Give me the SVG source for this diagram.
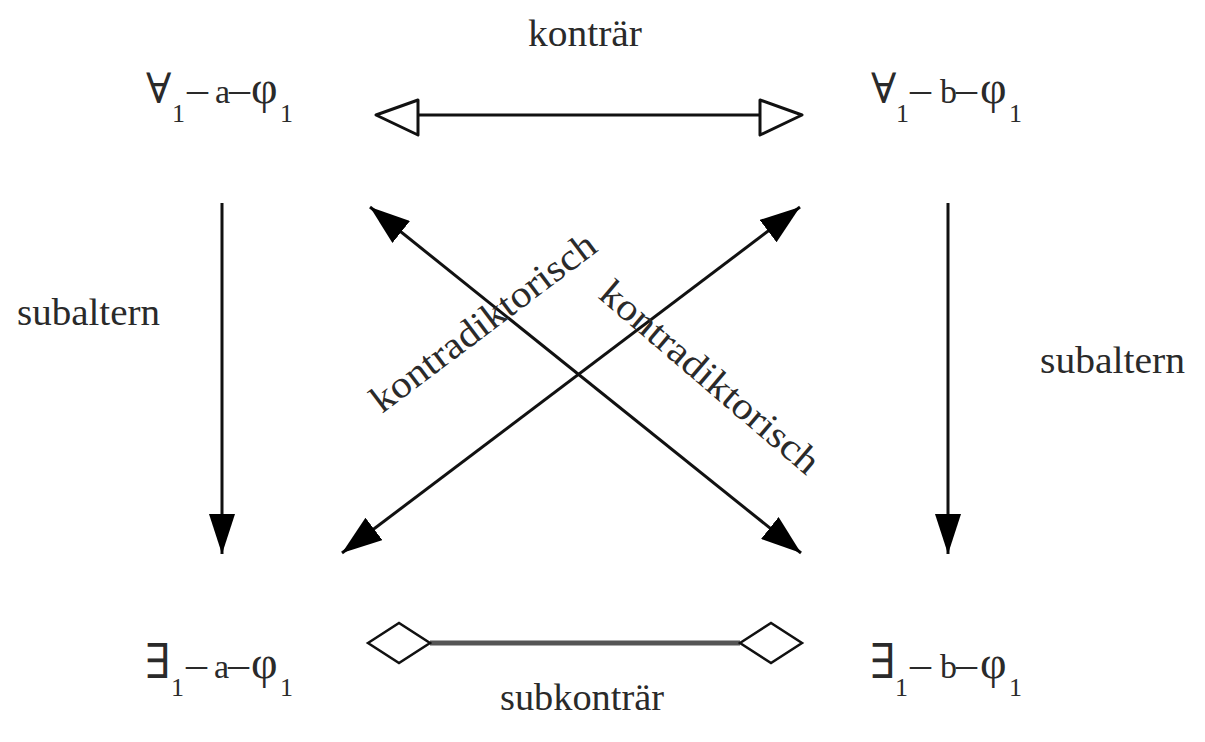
<svg xmlns="http://www.w3.org/2000/svg" width="1205" height="742" viewBox="0 0 1205 742">
<style>
text{font-family:"Liberation Serif","DejaVu Serif",serif;fill:#2a2a2a;}
.lbl{font-size:38px;}
.q{font-size:42px;}
.e{font-size:48px;}
.d{font-size:42px;}
.v{font-size:34px;}
.p{font-size:46px;}
.sub{font-size:26px;}
.ln{stroke:#111;stroke-width:3;fill:none;}
</style>
<defs>
<marker id="ah" viewBox="0 0 40 28" refX="40" refY="14" markerWidth="40" markerHeight="28" markerUnits="userSpaceOnUse" orient="auto-start-reverse">
<path d="M0,0 L40,14 L0,28 Z" fill="#000"/>
</marker>
<marker id="av" viewBox="0 0 40 26" refX="40" refY="13" markerWidth="40" markerHeight="26" markerUnits="userSpaceOnUse" orient="auto">
<path d="M0,0 L40,13 L0,26 Z" fill="#000"/>
</marker>
</defs>
<rect width="1205" height="742" fill="#fff"/>

<g id="n_all_a"><text y="103"><tspan class="q" x="146">∀</tspan><tspan class="sub" x="172" y="122">1</tspan><tspan class="d" x="187" y="103">–</tspan><tspan class="v" x="215">a</tspan><tspan class="d" x="229">–</tspan><tspan class="p" x="251">φ</tspan><tspan class="sub" x="280" y="122">1</tspan></text></g>
<g id="n_all_b"><text y="103"><tspan class="q" x="871">∀</tspan><tspan class="sub" x="896" y="122">1</tspan><tspan class="d" x="910" y="103">–</tspan><tspan class="v" x="940">b</tspan><tspan class="d" x="956">–</tspan><tspan class="p" x="980">φ</tspan><tspan class="sub" x="1009" y="122">1</tspan></text></g>
<g id="n_ex_a"><text y="678"><tspan class="e" x="145">∃</tspan><tspan class="sub" x="171" y="696">1</tspan><tspan class="d" x="186" y="678">–</tspan><tspan class="v" x="214">a</tspan><tspan class="d" x="228">–</tspan><tspan class="p" x="251">φ</tspan><tspan class="sub" x="280" y="696">1</tspan></text></g>
<g id="n_ex_b"><text y="678"><tspan class="e" x="870">∃</tspan><tspan class="sub" x="895" y="696">1</tspan><tspan class="d" x="910" y="678">–</tspan><tspan class="v" x="940">b</tspan><tspan class="d" x="956">–</tspan><tspan class="p" x="980">φ</tspan><tspan class="sub" x="1009" y="696">1</tspan></text></g>

<g id="connectors">
<line class="ln" x1="418" y1="115" x2="760" y2="115"/>
<path d="M418,100 L376,115 L418,135 Z" fill="#fff" stroke="#111" stroke-width="3" stroke-linejoin="round"/>
<path d="M760,100 L802,115 L760,135 Z" fill="#fff" stroke="#111" stroke-width="3" stroke-linejoin="round"/>

<line x1="430" y1="643" x2="740" y2="643" stroke="#555" stroke-width="5"/>
<path d="M368,643 L399,623 L430,643 L399,663 Z" fill="#fff" stroke="#111" stroke-width="2.5"/>
<path d="M740,643 L771,623 L802,643 L771,663 Z" fill="#fff" stroke="#111" stroke-width="2.5"/>

<line class="ln" x1="222" y1="203" x2="222" y2="554" marker-end="url(#av)"/>
<line class="ln" x1="948" y1="203" x2="948" y2="554" marker-end="url(#av)"/>

<line class="ln" x1="370" y1="207" x2="801" y2="553" marker-start="url(#ah)" marker-end="url(#ah)"/>
<line class="ln" x1="342" y1="553" x2="800" y2="207" marker-start="url(#ah)" marker-end="url(#ah)"/>
</g>

<g id="labels">
<text class="lbl" x="528" y="46" textLength="114" lengthAdjust="spacingAndGlyphs">konträr</text>
<text class="lbl" x="500" y="710" textLength="164" lengthAdjust="spacingAndGlyphs">subkonträr</text>
<text class="lbl" x="17" y="325" textLength="143" lengthAdjust="spacingAndGlyphs">subaltern</text>
<text class="lbl" x="1040" y="373" textLength="145" lengthAdjust="spacingAndGlyphs">subaltern</text>
<text class="lbl" transform="translate(382,414) rotate(-37)" textLength="272" lengthAdjust="spacingAndGlyphs">kontradiktorisch</text>
<text class="lbl" transform="translate(597,297) rotate(40.5)" textLength="276" lengthAdjust="spacingAndGlyphs">kontradiktorisch</text>
</g>
</svg>
